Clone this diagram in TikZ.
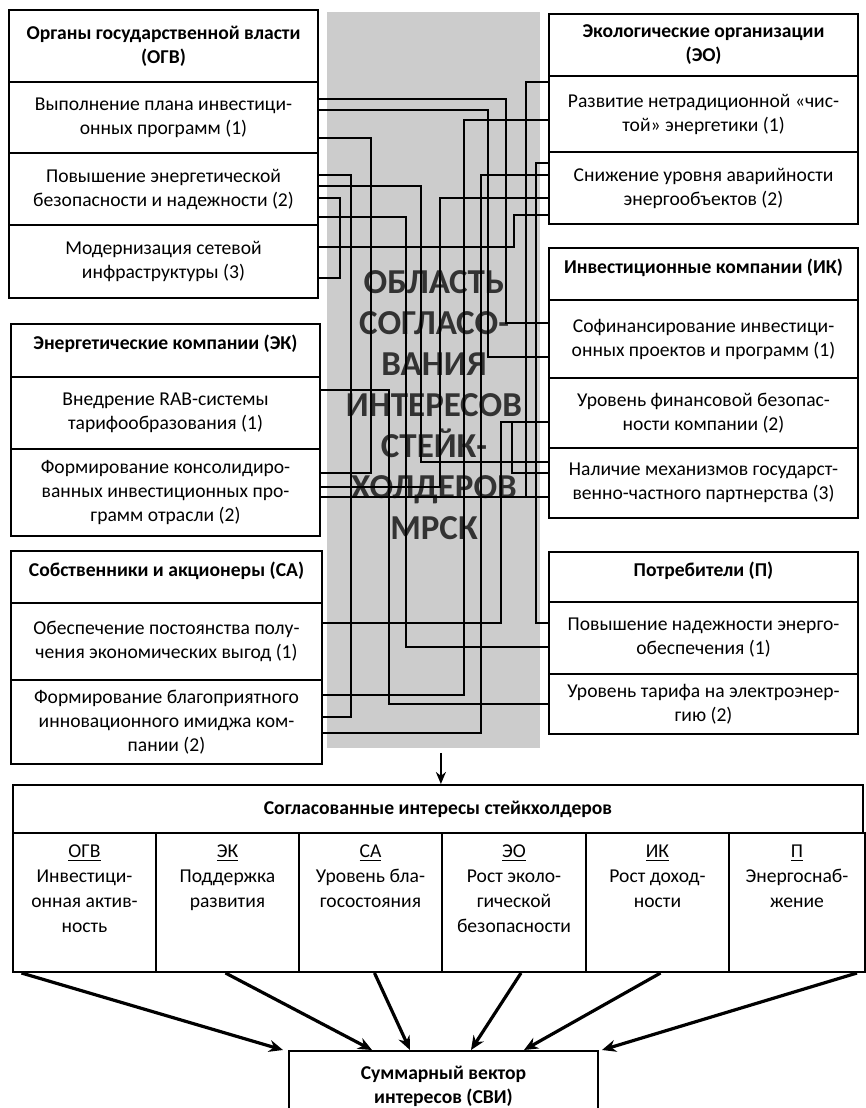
\documentclass[tikz,border=0pt]{standalone}
\usepackage{fontspec}
\setmainfont{Carlito}
\usetikzlibrary{arrows.meta,calc}

\newcommand{\cellbox}[2]{\parbox[c][69.5pt][t]{68pt}{\centering\vspace*{6pt}\underline{#1}\\#2}}

\tikzset{
  box/.style={draw,line width=1pt,anchor=north west,align=center,inner sep=1pt,
    font=\fontsize{9.8}{12}\selectfont},
  head/.style={box,font=\fontsize{9.8}{12}\selectfont\bfseries},
  one/.style={text depth=8pt},
  lcol/.style={minimum width=154.5pt},
  rcol/.style={minimum width=154.5pt},
  cell/.style={draw,line width=1pt,anchor=north west,inner sep=0pt,
    minimum height=69.5pt,font=\fontsize{9.8}{12.5}\selectfont},
  zone/.style={fill=black!20,anchor=north west,minimum width=106.5pt,minimum height=368pt},
  ztitle/.style={align=center,text=black!80,font=\fontsize{17.5}{20.5}\selectfont\bfseries},
  wire/.style={line width=0.85pt},
  vec/.style={line width=1.6pt,-{Stealth[length=7pt,width=6pt]}},
}

\begin{document}
\begin{tikzpicture}[x=0.5pt,y=-0.5pt]
\useasboundingbox (0,0) rectangle (866,1108);
% area in the middle
\node[zone] (zone) at (327,12) {};
\node[ztitle] (ztext) at (434,405) {ОБЛАСТЬ\\СОГЛАСО-\\ВАНИЯ\\ИНТЕРЕСОВ\\СТЕЙК-\\ХОЛДЕРОВ\\МРСК};

% left column
\node[head,lcol,minimum height=36pt] (ogvH) at (8,9) {Органы государственной власти\\(ОГВ)};
\node[box,lcol,minimum height=35.5pt] (ogv1) at (8,81) {Выполнение плана инвестици-\\онных программ (1)};
\node[box,lcol,minimum height=36pt] (ogv2) at (8,152) {Повышение энергетической\\безопасности и надежности (2)};
\node[box,lcol,minimum height=36.5pt] (ogv3) at (8,224) {Модернизация сетевой\\инфраструктуры (3)};

\node[head,one,lcol,minimum height=26.5pt] (ekH) at (10,323) {Энергетические компании (ЭК)};
\node[box,lcol,minimum height=36pt] (ek1) at (10,376) {Внедрение RAB-системы\\тарифообразования (1)};
\node[box,lcol,minimum height=43.5pt] (ek2) at (10,448) {Формирование консолидиро-\\ванных инвестиционных про-\\грамм отрасли (2)};

\node[head,one,minimum width=155.5pt,minimum height=26pt] (saH) at (10,550) {Собственники и акционеры (СА)};
\node[box,minimum width=155.5pt,minimum height=38.5pt] (sa1) at (10,602) {Обеспечение постоянства полу-\\чения экономических выгод (1)};
\node[box,minimum width=155.5pt,minimum height=42pt] (sa2) at (10,679) {Формирование благоприятного\\инновационного имиджа ком-\\пании (2)};

% right column
\node[head,rcol,minimum height=31pt] (eoH) at (548,13) {Экологические организации\\(ЭО)};
\node[box,rcol,minimum height=38pt] (eo1) at (548,75) {Развитие нетрадиционной «чис-\\той» энергетики (1)};
\node[box,rcol,minimum height=36pt] (eo2) at (548,151) {Снижение уровня аварийности\\энергообъектов (2)};

\node[head,one,rcol,minimum height=26pt] (ikH) at (548,247) {Инвестиционные компании (ИК)};
\node[box,rcol,minimum height=39pt] (ik1) at (548,299) {Софинансирование инвестици-\\онных проектов и программ (1)};
\node[box,rcol,minimum height=35pt] (ik2) at (548,377) {Уровень  финансовой безопас-\\ности компании (2)};
\node[box,rcol,minimum height=35pt] (ik3) at (548,447) {Наличие механизмов государст-\\венно-частного партнерства (3)};

\node[head,one,rcol,minimum height=25pt] (pH) at (548,551) {Потребители (П)};
\node[box,rcol,minimum height=36pt] (p1) at (548,601) {Повышение надежности энерго-\\обеспечения (1)};
\node[box,rcol,minimum height=30pt] (p2) at (548,673) {Уровень тарифа на электроэнер-\\гию (2)};

% wires between the interests
\foreach \a/\sa/\ya/\xl/\yb/\b/\sb in {
  ogv1/east/99/506/323/ik1/west, ogv1/east/110/488/357/ik1/west,
  ogv1/east/138/371/473/ek2/east, ogv2/east/175/351/717/sa2/east,
  ogv2/east/186/421/462/ik3/west, ogv2/east/198/340/278/ogv3/east,
  ogv2/east/217/406/647/p1/west, ogv3/east/247/514/215/eo2/west,
  ek1/east/390/389/704/p2/west, ek2/east/497/430/497/ik3/west,
  sa1/east/623/501/422/ik2/west, eo1/west/82/526/497/ik3/west,
  eo1/west/120/464/695/sa2/east, eo2/west/163/536/623/p1/west,
  eo2/west/175/481/733/sa2/east, eo2/west/198/440/487/ek2/east,
  ik3/west/473/512/422/ik2/west}
  \draw[wire] (\a.\sa |- 0,\ya) -| (\xl,\yb) -- (\b.\sb |- 0,\yb);

% agreed interests
\node[head,minimum width=425pt,minimum height=24pt] (agH) at (12,784) {Согласованные интересы стейкхолдеров};
\coordinate (dn) at ([xshift=3.5pt,yshift=-2pt]zone.south);
\draw[line width=1.4pt,-{Stealth[length=6pt,width=5pt]}] (dn) -- (dn |- agH.north);

\node[cell,minimum width=71.5pt] (cOGV) at (12,832) {\cellbox{ОГВ}{Инвестици-\\онная актив-\\ность}};
\node[cell,minimum width=71.5pt] (cEK) at (155,832) {\cellbox{ЭК}{Поддержка\\развития}};
\node[cell,minimum width=71.5pt] (cSA) at (298,832) {\cellbox{СА}{Уровень бла-\\госостояния}};
\node[cell,minimum width=72pt] (cEO) at (441,832) {\cellbox{ЭО}{Рост эколо-\\гической\\безопасности}};
\node[cell,minimum width=71.5pt] (cIK) at (585,832) {\cellbox{ИК}{Рост доход-\\ности}};
\node[cell,minimum width=67pt] (cP) at (728,832) {\cellbox{П}{Энергоснаб-\\жение}};

\node[head,minimum width=154.5pt,minimum height=35pt] (svi) at (288,1050) {Суммарный вектор\\интересов (СВИ)};

\foreach \c/\dx/\ex in {cOGV/-63/-5, cEK/-2/84, cSA/4/122, cEO/7/183, cIK/3/236, cP/60/314}
  \draw[vec] ($(\c.south)+(\dx,0)$) -- ($(svi.north west)+(\ex,0)$);
\end{tikzpicture}
\end{document}
